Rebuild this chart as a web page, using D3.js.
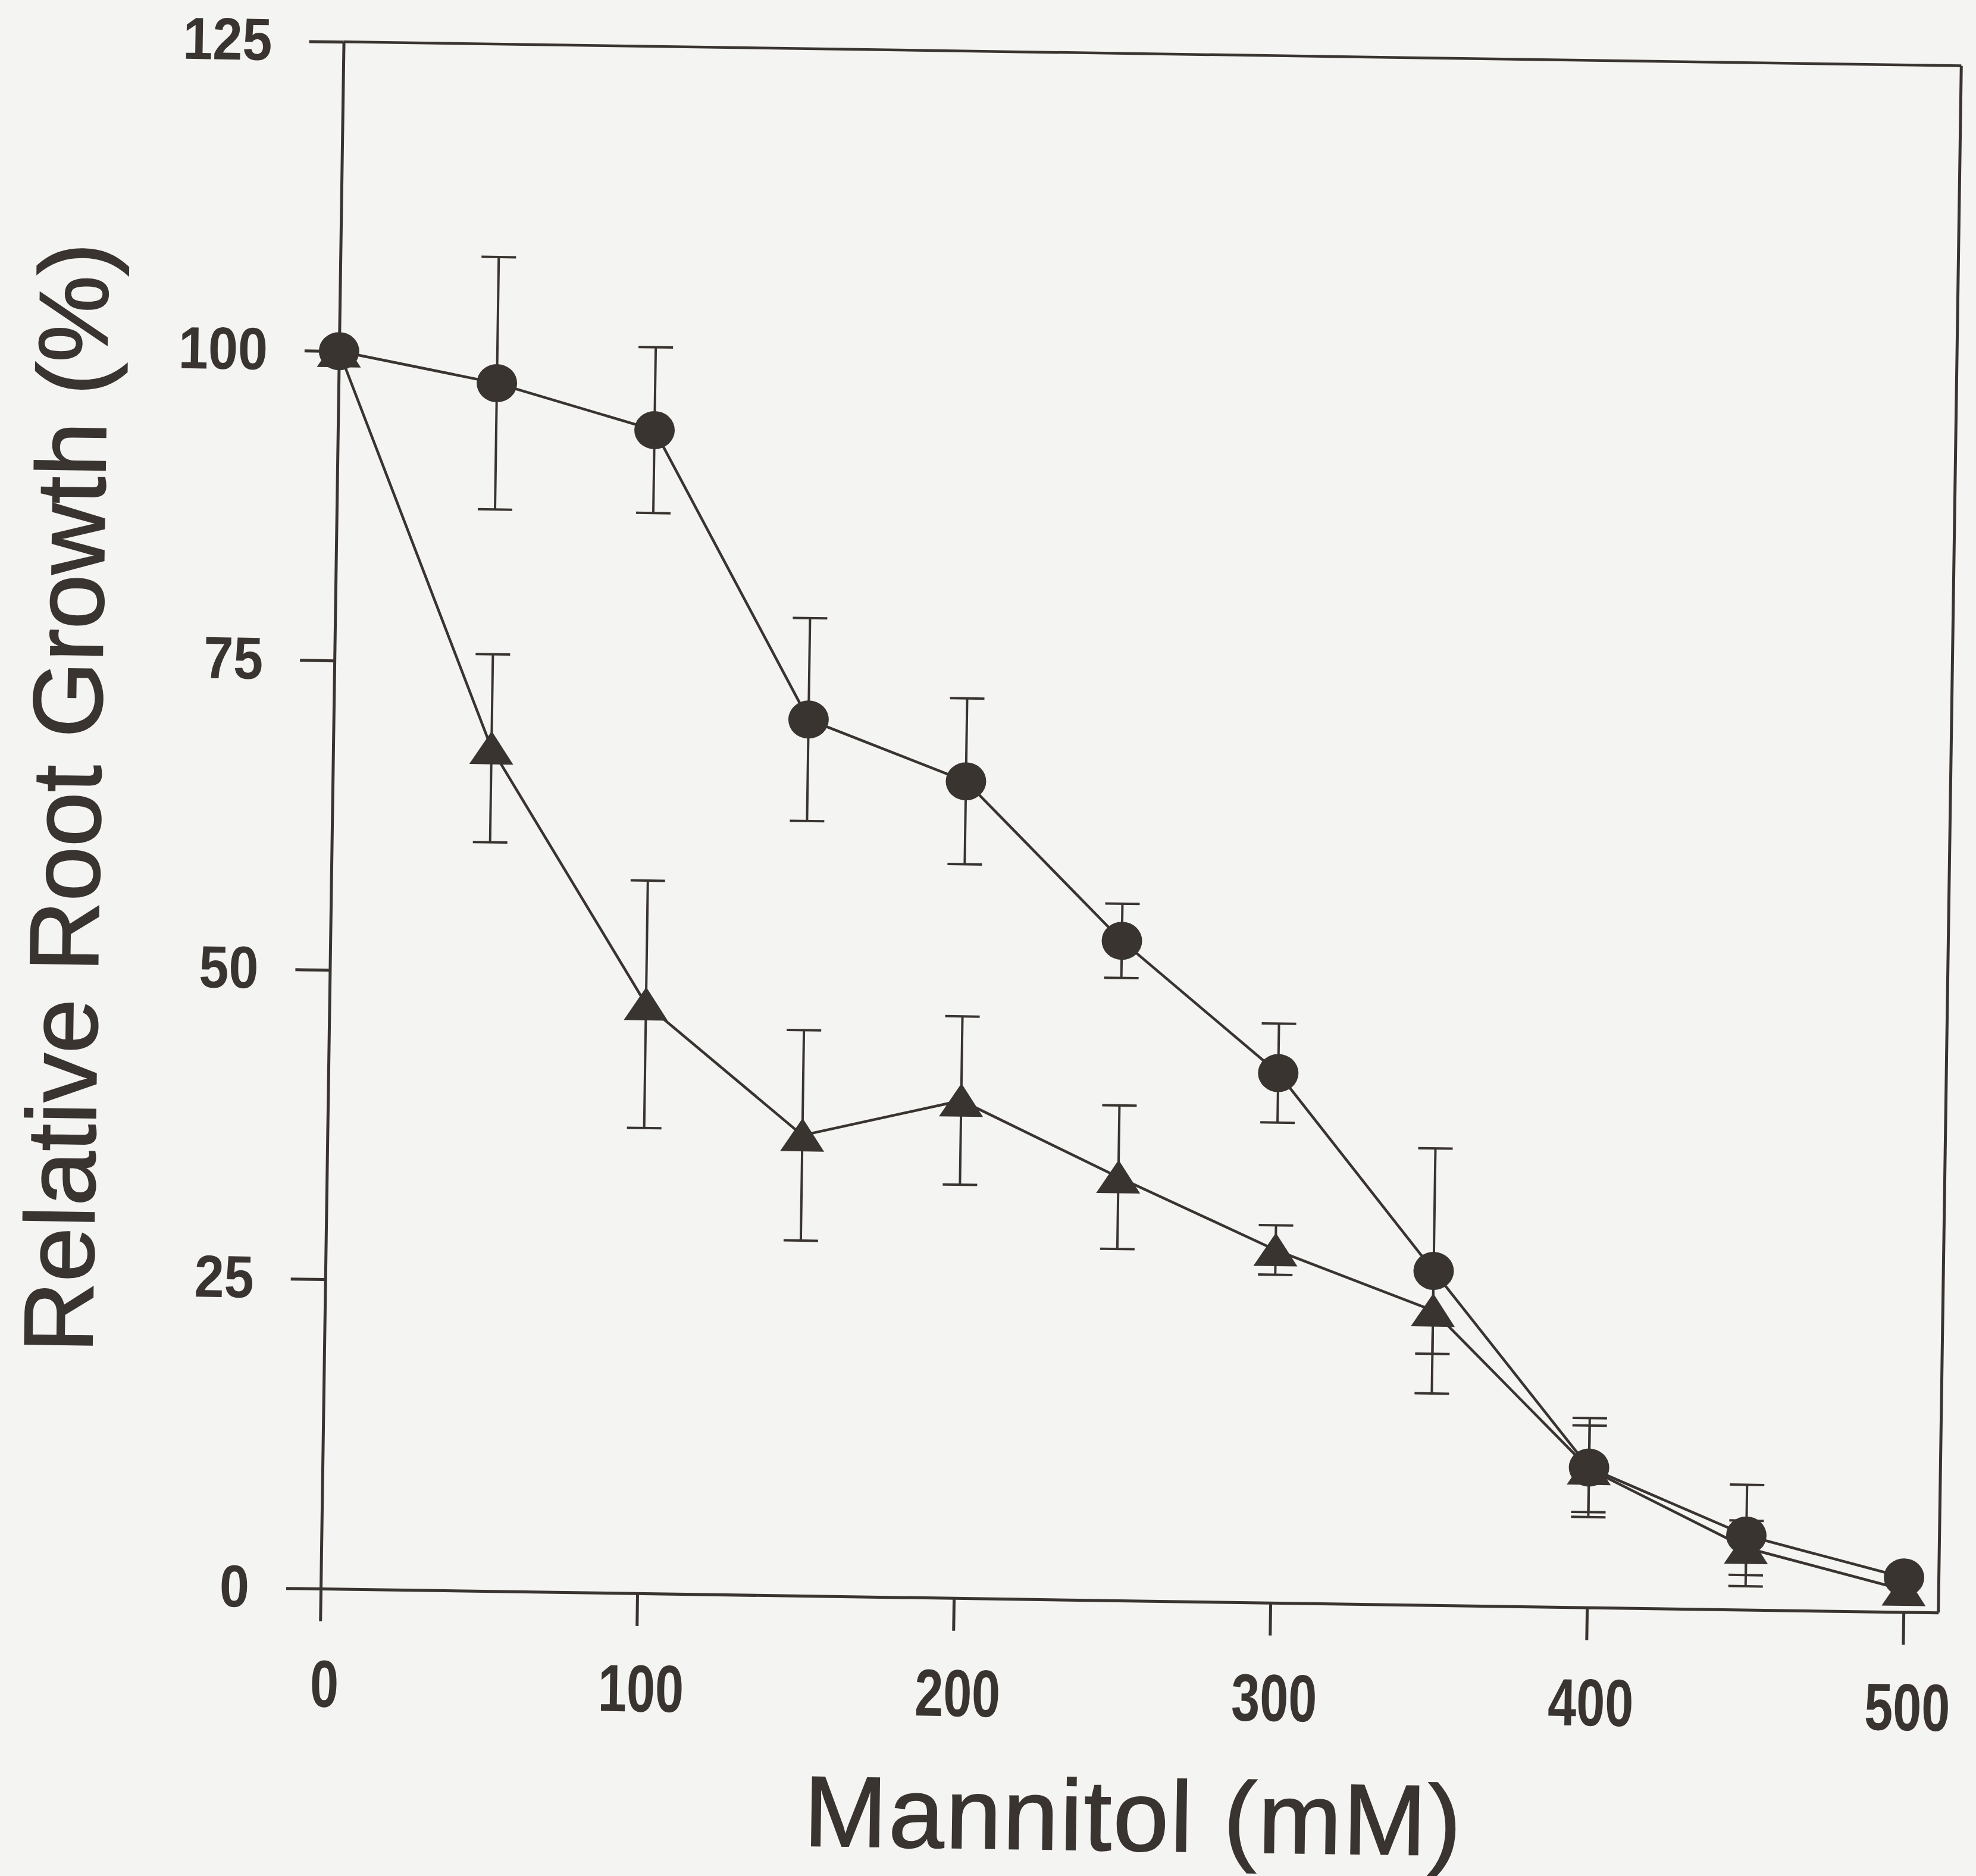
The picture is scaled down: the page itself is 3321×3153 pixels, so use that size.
<!DOCTYPE html>
<html>
<head>
<meta charset="utf-8">
<script src="https://cdnjs.cloudflare.com/ajax/libs/d3/7.8.5/d3.min.js"></script>
<style>
  html, body { margin: 0; padding: 0; background: #f4f4f2; }
  svg { display: block; }
</style>
</head>
<body>
<div id="chart"></div>
<script>
// data
const mannitol = [0, 50, 100, 150, 200, 250, 300, 350, 400, 450, 500];
const wtGrowth = [100, 97.6, 94.0, 70.8, 66.0, 53.3, 42.8, 27.0, 11.3, 6.0, 2.8];
const wtErr    = [0, 10.2, 6.7, 8.2, 6.7, 3.0, 4.0, 9.9, 4.0, 4.1, 0];
const mutGrowth = [100, 68.1, 47.6, 37.2, 40.2, 34.2, 28.5, 23.8, 11.2, 5.0, 1.8];
const mutErr    = [0, 7.6, 10.0, 8.5, 6.8, 5.8, 2.0, 3.5, 3.5, 2.2, 0];
const xTicks = [0, 100, 200, 300, 400, 500];
const yTicks = [0, 25, 50, 75, 100, 125];

const ink = '#3a3431';
const font = '"Liberation Sans", Arial, Helvetica, sans-serif';

const svg = d3.select('#chart').append('svg')
  .attr('width', 3321).attr('height', 3153);

// whole plot is slightly tilted in the scan
const g = svg.append('g').attr('transform', 'translate(539,2670) rotate(0.85)');

const x = d3.scaleLinear().domain([0, 511]).range([0, 2719]);
const y = d3.scaleLinear().domain([0, 125]).range([0, -2600]);

// axes
const yAxis = g.append('g')
  .call(d3.axisLeft(y).tickValues(yTicks).tickSize(58).tickSizeOuter(0).tickPadding(62));
const xAxis = g.append('g')
  .call(d3.axisBottom(x).tickValues(xTicks).tickSize(55).tickSizeOuter(0).tickPadding(64));

yAxis.selectAll('path, line').attr('stroke', ink).attr('stroke-width', 5);
xAxis.selectAll('path, line').attr('stroke', ink).attr('stroke-width', 5);
yAxis.selectAll('text').attr('fill', ink).style('font-family', font)
  .style('font-weight', 'bold').style('font-size', '100px')
  .attr('textLength', d => 50 * String(d).length).attr('lengthAdjust', 'spacingAndGlyphs');
xAxis.selectAll('text').attr('fill', ink).style('font-family', font)
  .style('font-weight', 'bold').style('font-size', '112px')
  .attr('dx', 8)
  .attr('textLength', d => 48 * String(d).length).attr('lengthAdjust', 'spacingAndGlyphs');

// top and right frame lines
g.append('line')
  .attr('x1', x(0)).attr('x2', x(511)).attr('y1', y(125)).attr('y2', y(125))
  .attr('stroke', ink).attr('stroke-width', 4.5);
g.append('line')
  .attr('x1', x(511)).attr('x2', x(511)).attr('y1', y(0)).attr('y2', y(125))
  .attr('stroke', ink).attr('stroke-width', 5);

// axis titles
g.append('text')
  .attr('x', 1370).attr('y', 420)
  .attr('text-anchor', 'middle')
  .attr('fill', ink).attr('stroke', ink).attr('stroke-width', 2)
  .attr('textLength', 1105)
  .style('font-family', font).style('font-size', '168px')
  .text('Mannitol (mM)');
g.append('text')
  .attr('transform', 'translate(-390,-1323) rotate(-90)')
  .attr('text-anchor', 'middle')
  .attr('fill', ink).attr('stroke', ink).attr('stroke-width', 2)
  .attr('textLength', 1866)
  .style('font-family', font).style('font-size', '165px')
  .text('Relative Root Growth (%)');

const wt = mannitol.map((m, i) => ({m: m, v: wtGrowth[i], e: wtErr[i]}));
const mut = mannitol.map((m, i) => ({m: m, v: mutGrowth[i], e: mutErr[i]}));

const line = d3.line().x(d => x(d.m)).y(d => y(d.v));

function errorBars(data) {
  const eb = g.append('g').attr('stroke', ink).attr('stroke-width', 4);
  const withErr = data.filter(d => d.e > 0);
  eb.selectAll('.stem').data(withErr).enter().append('line')
    .attr('x1', d => x(d.m)).attr('x2', d => x(d.m))
    .attr('y1', d => y(d.v - d.e)).attr('y2', d => y(d.v + d.e));
  eb.selectAll('.capTop').data(withErr).enter().append('line')
    .attr('x1', d => x(d.m) - 29).attr('x2', d => x(d.m) + 29)
    .attr('y1', d => y(d.v + d.e)).attr('y2', d => y(d.v + d.e));
  eb.selectAll('.capBot').data(withErr).enter().append('line')
    .attr('x1', d => x(d.m) - 29).attr('x2', d => x(d.m) + 29)
    .attr('y1', d => y(d.v - d.e)).attr('y2', d => y(d.v - d.e));
}

errorBars(mut);
errorBars(wt);

g.append('path').datum(mut).attr('d', line)
  .attr('fill', 'none').attr('stroke', ink).attr('stroke-width', 4.5);
g.append('path').datum(wt).attr('d', line)
  .attr('fill', 'none').attr('stroke', ink).attr('stroke-width', 4.5);

// triangles (mutant)
g.selectAll('.tri').data(mut).enter().append('path')
  .attr('transform', d => 'translate(' + x(d.m) + ',' + y(d.v) + ')')
  .attr('d', 'M0,-29L37,27L-37,27Z')
  .attr('fill', ink);

// circles (wild type)
g.selectAll('.dot').data(wt).enter().append('ellipse')
  .attr('cx', d => x(d.m)).attr('cy', d => y(d.v))
  .attr('rx', 34).attr('ry', 32)
  .attr('fill', ink);
</script>
</body>
</html>
